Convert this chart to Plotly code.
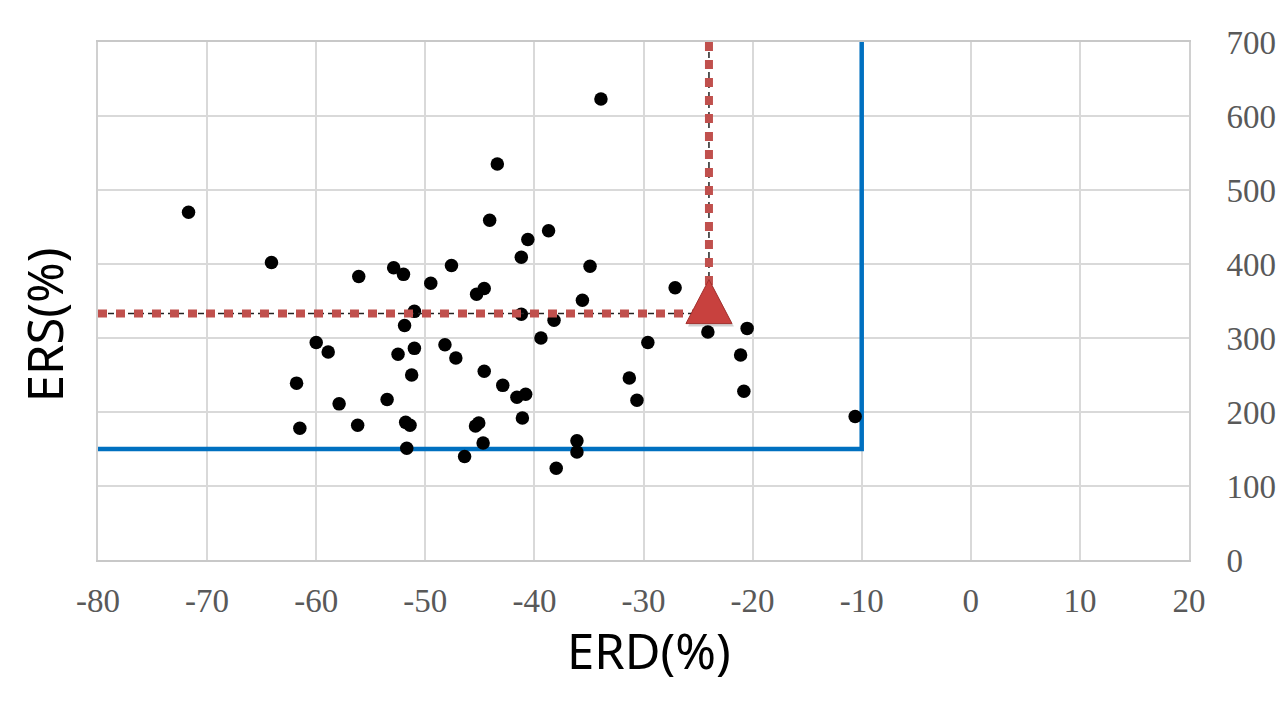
import plotly.graph_objects as go

# ---- data ----
erd = [-71.7, -64.1, -33.9, -43.4, -44.1, -38.7, -40.6, -41.2, -34.9, -47.6,
       -52.9, -52.0, -56.1, -49.5, -44.6, -45.3, -27.1, -35.6, -51.0, -41.2,
       -38.2, -51.9, -20.5, -24.1, -39.4, -60.0, -48.2, -29.6, -51.0, -58.9,
       -52.5, -47.2, -21.1, -44.6, -51.25, -31.3, -61.8, -42.9, -20.8, -40.8,
       -41.6, -53.5, -30.6, -57.9, -10.6, -41.1, -51.8, -45.1, -51.4, -45.4,
       -56.2, -61.5, -36.1, -44.7, -51.7, -36.1, -46.4, -38.0]
ers = [470, 402, 623, 535, 459, 445, 433, 409, 397, 398,
       395, 386, 383, 374, 367, 359, 368, 351, 336, 332,
       324, 317, 313, 308, 300, 294, 291, 294, 286, 281,
       278, 273, 277, 255, 250, 246, 239, 236, 228, 224,
       220, 217, 216, 211, 194, 192, 186, 185, 182, 181,
       182, 178, 161, 158, 151, 146, 140, 124]

ERD_THRESHOLD = -10
ERS_THRESHOLD = 150
TARGET_ERD = -24
TARGET_ERS = 333

x_range = [-80, 20]
y_range = [0, 700]
x_ticks = list(range(-80, 21, 10))
y_ticks = list(range(0, 701, 100))
x_title = "ERD(%)"
y_title = "ERS(%)"

# ---- styles ----
BLUE = "#0070C0"
RED = "#C0504D"
GRID = "#D9D9D9"
TICK_FONT = dict(family="Liberation Serif", size=33, color="#595959")
TITLE_FONT = dict(family="Noto Sans", size=49, color="#000000")

fig = go.Figure()

# threshold boundary (blue)
fig.add_trace(go.Scatter(
    x=[x_range[0], ERD_THRESHOLD, ERD_THRESHOLD],
    y=[ERS_THRESHOLD, ERS_THRESHOLD, y_range[1]],
    mode="lines", line=dict(color=BLUE, width=4.5),
    hoverinfo="skip", showlegend=False))

# data points
fig.add_trace(go.Scatter(
    x=erd, y=ers, mode="markers",
    marker=dict(color="#000000", size=13.5, line=dict(width=0)),
    showlegend=False))

# guide lines to the target point (thin black dash underneath red dots)
guide_x = [x_range[0], TARGET_ERD, None, TARGET_ERD, TARGET_ERD]
guide_y = [TARGET_ERS, TARGET_ERS, None, y_range[1], TARGET_ERS]
fig.add_trace(go.Scatter(
    x=guide_x, y=guide_y, mode="lines",
    line=dict(color="#222222", width=1.5, dash="6px,4px"),
    hoverinfo="skip", showlegend=False))
fig.add_trace(go.Scatter(
    x=guide_x, y=guide_y, mode="lines",
    line=dict(color=RED, width=8, dash="9px,9px"),
    hoverinfo="skip", showlegend=False))

# target triangle marker (pixel-sized shape anchored at the data point)
fig.add_shape(type="path", xref="x", yref="y",
              xsizemode="pixel", ysizemode="pixel",
              xanchor=TARGET_ERD, yanchor=TARGET_ERS,
              path="M -21,-13 L 2,31 L 25,-13 Z",
              fillcolor="rgba(0,0,0,0.18)", line=dict(width=0), layer="above")
fig.add_shape(type="path", xref="x", yref="y",
              xsizemode="pixel", ysizemode="pixel",
              xanchor=TARGET_ERD, yanchor=TARGET_ERS,
              path="M -23,-10 L 0,34 L 23,-10 Z",
              fillcolor="#C8413E", line=dict(color="#A3302D", width=1),
              layer="above")

fig.update_xaxes(
    range=x_range, tickvals=x_ticks, ticktext=[str(v) for v in x_ticks],
    showgrid=True, gridcolor=GRID, gridwidth=2, zeroline=False,
    showline=True, linecolor="#C8C8C8", linewidth=2, mirror=True,
    ticks="", tickfont=TICK_FONT, ticklabelstandoff=10)
fig.update_yaxes(
    range=y_range, tickvals=y_ticks, ticktext=[str(v) for v in y_ticks],
    side="right", showgrid=True, gridcolor=GRID, gridwidth=2, zeroline=False,
    showline=True, linecolor="#D0D0D0", linewidth=2, mirror=True,
    ticks="", tickfont=TICK_FONT, ticklabelstandoff=29)

fig.add_annotation(text=x_title, xref="paper", yref="paper",
                   x=0.505, y=-0.173, xanchor="center", yanchor="middle",
                   showarrow=False, font=TITLE_FONT)
fig.add_annotation(text=y_title, xref="paper", yref="paper",
                   x=-0.05, y=0.454, xanchor="center", yanchor="middle",
                   textangle=-90, showarrow=False, font=TITLE_FONT)

fig.update_layout(
    width=1288, height=704,
    margin=dict(l=98, r=97, t=42, b=144),
    paper_bgcolor="#FFFFFF", plot_bgcolor="#FFFFFF",
    showlegend=False)

fig.write_html("out.html")
